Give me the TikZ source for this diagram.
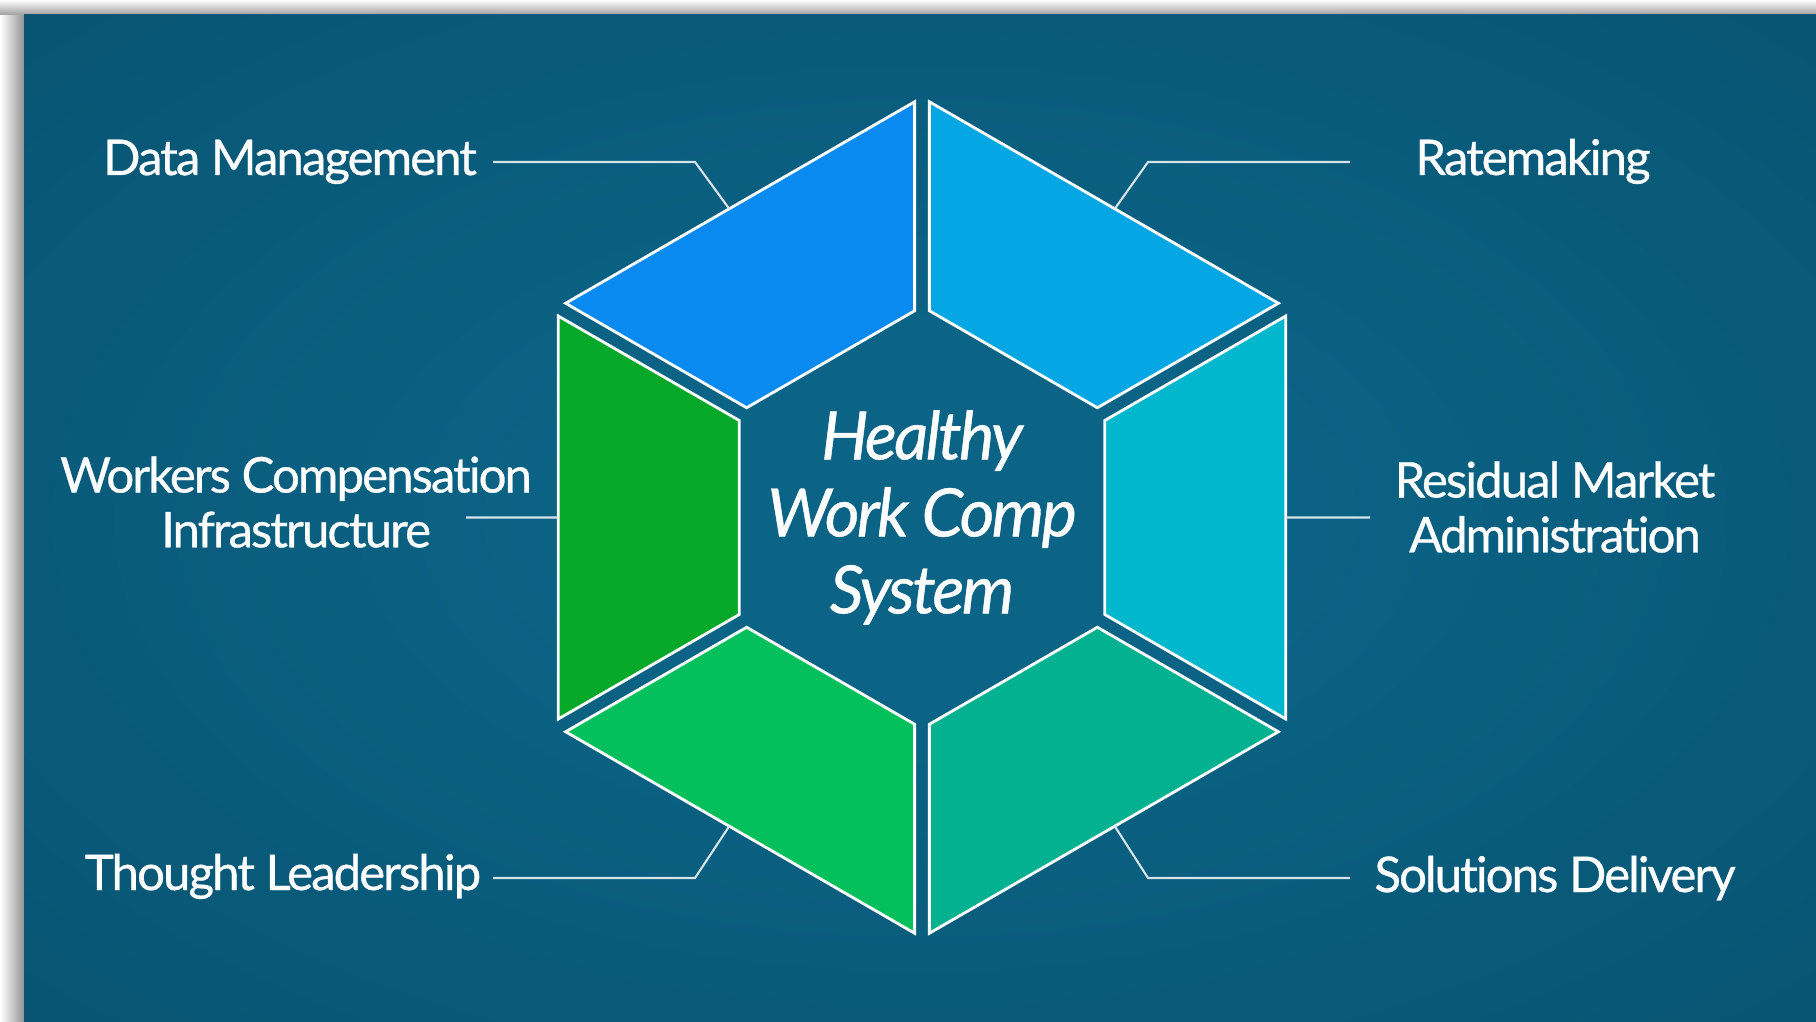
\documentclass[tikz,border=0pt]{standalone}
\usepackage{fontspec}
\setmainfont{Lato}[LetterSpace=-4, FakeBold=0.6, Ligatures=NoCommon]
\usetikzlibrary{calc}

\definecolor{panelmid}{RGB}{11,100,134}
\definecolor{paneledge}{RGB}{4,66,92}
\definecolor{dmblue}{RGB}{8,138,240}
\definecolor{rateblue}{RGB}{4,167,228}
\definecolor{resteal}{RGB}{1,183,205}
\definecolor{solgreen}{RGB}{1,177,143}
\definecolor{tlgreen}{RGB}{3,192,92}
\definecolor{wcigreen}{RGB}{6,168,42}
\definecolor{leadergray}{RGB}{215,228,234}

\pgfdeclareradialshading{panelglow}{\pgfpoint{0bp}{0bp}}{color(0bp)=(panelmid); color(8bp)=(panelmid); color(66bp)=(paneledge)}

\tikzset{
  piece/.style={draw=white, line width=0.8pt, line join=miter},
  leader/.style={draw=leadergray, line width=0.6pt},
  itemtext/.style={text=white, font=\fontsize{14}{15.6}\selectfont, align=center, inner sep=0pt},
  hub/.style={text=white, font=\fontsize{19}{21.9}\selectfont\itshape, align=center, inner sep=0pt}
}

\begin{document}
\begin{tikzpicture}
    \useasboundingbox (0,0) rectangle (18.16,10.21);
    % paper with the soft shadow on the left and top
    \fill[white] (0,0) rectangle (18.16,10.21);
    \shade[left color=white, right color=black!42] (0,0) rectangle (0.24,10.21);
    \shade[top color=white, bottom color=black!38] (0,10.06) rectangle (18.16,10.21);
    \shade[shading=panelglow] (0.24,0) rectangle (18.16,10.06);

    % outer and inner corners of the hexagon ring
    \coordinate (c) at (9.22,5.035);
    \foreach \a in {30,90,...,330} {
        \coordinate (o\a) at ($(c)+(\a:4.2)$);
        \coordinate (i\a) at ($(c)+(\a:2.11)$);
    }

    % the six segments, pulled apart a little along the cuts
    \foreach \a/\b/\col in {90/150/dmblue, 30/90/rateblue, 330/30/resteal, 270/330/solgreen, 210/270/tlgreen, 150/210/wcigreen}
        \filldraw[piece, fill=\col] ($(o\a)!0.085cm!(o\b)$) -- ($(o\b)!0.085cm!(o\a)$)
            -- ($(i\b)!0.085cm!(i\a)$) -- ($(i\a)!0.085cm!(i\b)$) -- cycle;

    \node[hub] (hub) at (c) {Healthy\\Work Comp\\System};

    \node[itemtext, anchor=base] (dm) at (2.90,8.46) {Data Management};
    \node[itemtext, anchor=base] (rate) at (15.33,8.46) {Ratemaking};
    \node[itemtext] (wci) at (2.96,5.19) {Workers Compensation\\Infrastructure};
    \node[itemtext] (res) at (15.55,5.14) {Residual Market\\Administration};
    \node[itemtext, anchor=base] (tl) at (2.83,1.31) {Thought Leadership};
    \node[itemtext, anchor=base] (sol) at (15.55,1.29) {Solutions Delivery};

    % where the leader lines meet the segments
    \coordinate (dm-in) at ($(o150)!0.47!(o90)$);
    \coordinate (rate-in) at ($(o30)!0.47!(o90)$);
    \coordinate (wci-in) at ($(o150)!0.5!(o210)$);
    \coordinate (res-in) at ($(o30)!0.5!(o330)$);
    \coordinate (tl-in) at ($(o210)!0.47!(o270)$);
    \coordinate (sol-in) at ($(o330)!0.47!(o270)$);

    \coordinate (dm-end) at (4.93,8.59);
    \coordinate (rate-end) at (13.50,8.59);
    \coordinate (wci-end) at (4.66,5.035);
    \coordinate (res-end) at (13.70,5.035);
    \coordinate (tl-end) at (4.93,1.43);
    \coordinate (sol-end) at (13.50,1.43);

    \draw[leader] (dm-end) -- ++(2.02,0) -- (dm-in);
    \draw[leader] (rate-end) -- ++(-2.02,0) -- (rate-in);
    \draw[leader] (wci-end) -- (wci-in);
    \draw[leader] (res-end) -- (res-in);
    \draw[leader] (tl-end) -- ++(2.02,0) -- (tl-in);
    \draw[leader] (sol-end) -- ++(-2.02,0) -- (sol-in);
\end{tikzpicture}
\end{document}
